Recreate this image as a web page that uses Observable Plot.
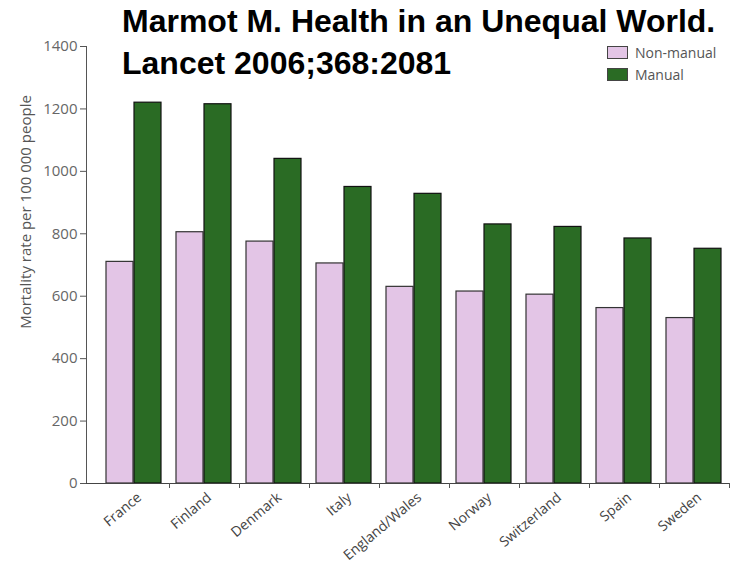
<!DOCTYPE html>
<html>
<head>
<meta charset="utf-8">
<script src="https://cdn.jsdelivr.net/npm/d3@7"></script>
<script src="https://cdn.jsdelivr.net/npm/@observablehq/plot@0.6"></script>
<style>
  html, body { margin: 0; padding: 0; background: #fff; }
  #wrap { position: relative; width: 741px; height: 577px; overflow: hidden; }
  #title { position: absolute; left: 122px; top: 0px; font-family: "Liberation Sans", Arial, sans-serif; font-weight: bold; font-size: 32px; line-height: 42px; color: #000; white-space: nowrap; z-index: 2; }
  .leg { position: absolute; left: 607px; font-family: "Open Sans", sans-serif; font-size: 14px; color: #555; display: flex; align-items: center; z-index: 2; }
  .sw { width: 19px; height: 11px; border: 1px solid #444; margin-right: 7px; }
</style>
</head>
<body>
<div id="wrap">
  <div id="title">Marmot M. Health in an Unequal World.<br>Lancet 2006;368:2081</div>
  <div class="leg" style="top:43px"><div class="sw" style="background:#e3c5e6"></div>Non-manual</div>
  <div class="leg" style="top:65px"><div class="sw" style="background:#2a6b24"></div>Manual</div>
</div>
<script>
const countries = ["France", "Finland", "Denmark", "Italy", "England/Wales", "Norway", "Switzerland", "Spain", "Sweden"];
const nonManual = [710, 805, 775, 705, 630, 615, 605, 562, 530];
const manual = [1220, 1215, 1040, 950, 928, 830, 822, 785, 752];
const yTicks = [0, 200, 400, 600, 800, 1000, 1200, 1400];
const yLabel = "Mortality rate per 100 000 people";

const nm = countries.map((c, i) => ({country: c, value: nonManual[i]}));
const ma = countries.map((c, i) => ({country: c, value: manual[i]}));

const chart = Plot.plot({
  width: 741,
  height: 577,
  marginTop: 46,
  marginBottom: 94,
  marginLeft: 86,
  marginRight: 12,
  style: {fontFamily: "Open Sans, sans-serif", background: "transparent"},
  x: {domain: countries, range: [99, 729], padding: 0, label: null},
  y: {domain: [0, 1400], label: null},
  marks: [
    Plot.barY(nm, {x: "country", y: "value", fill: "#e3c5e6", stroke: "#333", strokeWidth: 1.2, insetLeft: 7, insetRight: 36}),
    Plot.barY(ma, {x: "country", y: "value", fill: "#2a6b24", stroke: "#111", strokeWidth: 1.2, insetLeft: 35, insetRight: 8}),
    Plot.frame({anchor: "left", stroke: "#555"}),
    Plot.ruleY([0], {stroke: "#444"}),
    Plot.axisY({ticks: yTicks, tickFormat: d => String(d), tickSize: 6, tickPadding: 3, fontSize: 15, fill: "#666", stroke: "#555", label: null}),
    Plot.axisX({tickSize: 5, tickFormat: () => "", dx: 35, stroke: "#555", label: null}),
    Plot.axisX({tickSize: 0, tickRotate: -40, tickPadding: 12, dx: 5, fontSize: 14, fill: "#444", label: null}),
    Plot.text([yLabel], {text: d => d, frameAnchor: "left", textAnchor: "middle", rotate: -90, dx: -60, dy: -53, fontSize: 15, fill: "#555"})
  ]
});
chart.style.position = "absolute";
chart.style.left = "0px";
chart.style.top = "0px";
document.getElementById("wrap").appendChild(chart);
</script>
</body>
</html>
